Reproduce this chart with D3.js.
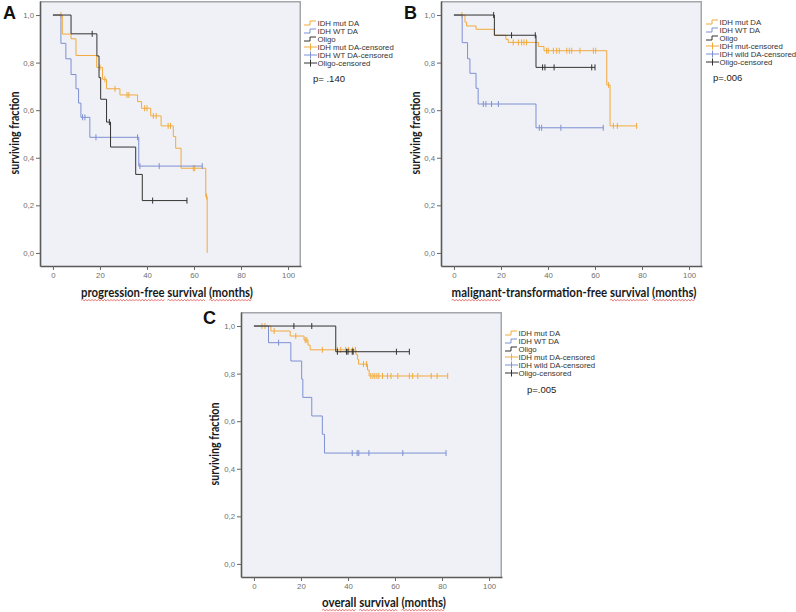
<!DOCTYPE html>
<html><head><meta charset="utf-8">
<script src="https://cdn.jsdelivr.net/npm/d3@7"></script>
<style>body{margin:0;background:#fff}svg{display:block}</style>
</head><body>
<svg id="chart" width="796" height="612"></svg>
<script>
// ---------- axis ticks ----------
const xTicks = [0, 20, 40, 60, 80, 100];
const xTickLabels = ["0", "20", "40", "60", "80", "100"];
const yTicks = [0, 0.2, 0.4, 0.6, 0.8, 1.0];
const yTickLabels = ["0,0", "0,2", "0,4", "0,6", "0,8", "1,0"];

// ---------- Panel A: progression-free survival ----------
const A_mut_time = [4.0, 7.7, 9.8, 18.6, 21.1, 22.8, 28.5, 36.0, 37.7, 41.6, 46.0, 51.2, 52.2, 54.5, 65.0, 65.6];
const A_mut_surv = [0.92, 0.90, 0.83, 0.78, 0.73, 0.69, 0.664, 0.636, 0.608, 0.576, 0.534, 0.489, 0.44, 0.356, 0.237, 0.0];
const A_mut_cens = [3.4, 20.0, 22.1, 26.4, 31.5, 32.3, 39.0, 40.0, 42.7, 43.9, 49.0, 50.0, 59.7, 60.3, 65.3];
const A_wt_time = [3.4, 5.5, 7.7, 9.8, 10.9, 11.9, 15.7, 36.5];
const A_wt_surv = [0.881, 0.816, 0.75, 0.69, 0.63, 0.57, 0.486, 0.365];
const A_wt_cens = [12.6, 13.6, 18.3, 36.0, 37.0, 45.2, 63.5];
const A_oli_time = [7.7, 18.7, 19.6, 20.3, 22.8, 24.5, 35.2, 38.0];
const A_oli_surv = [0.921, 0.828, 0.737, 0.646, 0.55, 0.445, 0.33, 0.22];
const A_oli_cens = [16.7, 24.0, 42.4, 57.0];

// ---------- Panel B: malignant-transformation-free survival ----------
const B_mut_time = [4.7, 5.4, 9.4, 17.2, 22.1, 23.1, 35.9, 38.3, 65.0, 66.4];
const B_mut_surv = [0.97, 0.954, 0.94, 0.915, 0.898, 0.885, 0.868, 0.85, 0.706, 0.534];
const B_mut_cens = [3.4, 25.2, 27.4, 28.8, 29.8, 30.9, 39.4, 40.1, 42.3, 43.7, 44.8, 48.0, 49.1, 50.1, 53.6, 59.3, 60.3, 65.8, 67.8, 69.5, 77.7];
const B_wt_time = [3.5, 5.8, 6.8, 9.4, 10.3, 34.9];
const B_wt_surv = [0.884, 0.816, 0.755, 0.692, 0.626, 0.526];
const B_wt_cens = [12.5, 13.6, 16.0, 18.9, 36.3, 37.3, 45.5, 63.5];
const B_oli_time = [17.2, 34.9];
const B_oli_surv = [0.915, 0.78];
const B_oli_cens = [16.9, 24.5, 34.6, 37.7, 38.7, 42.6, 58.6, 60.0];

// ---------- Panel C: overall survival ----------
const C_mut_time = [7.2, 15.4, 21.3, 23.0, 23.9, 43.4, 44.1, 44.5, 48.3, 49.0];
const C_mut_surv = [0.979, 0.958, 0.941, 0.92, 0.90, 0.88, 0.86, 0.84, 0.815, 0.79];
const C_mut_cens = [3.4, 4.7, 8.6, 17.8, 21.8, 22.5, 29.1, 35.5, 36.9, 39.0, 40.3, 42.0, 43.2, 46.6, 47.9, 49.7, 50.6, 51.4, 52.3, 53.1, 54.7, 56.8, 58.3, 61.2, 66.1, 67.5, 69.7, 75.4, 77.9, 82.4];
const C_wt_time = [6.2, 15.7, 20.3, 20.8, 24.6, 29.1, 30.0];
const C_wt_surv = [0.93, 0.853, 0.777, 0.70, 0.622, 0.545, 0.466];
const C_wt_cens = [10.5, 41.8, 43.9, 44.6, 48.9, 63.3, 81.7];
const C_oli_time = [34.8];
const C_oli_surv = [0.892];
const C_oli_cens = [17.0, 24.6, 35.5, 39.4, 40.0, 41.8, 42.2, 60.6, 66.1];

// ---------- legends / labels ----------
const A_legend = ["IDH mut DA", "IDH WT DA", "Oligo", "IDH mut DA-censored", "IDH WT DA-censored", "Oligo-censored"];
const B_legend = ["IDH mut DA", "IDH WT DA", "Oligo", "IDH mut-censored", "IDH wild DA-censored", "Oligo-censored"];
const C_legend = ["IDH mut DA", "IDH WT DA", "Oligo", "IDH mut DA-censored", "IDH wild DA-censored", "Oligo-censored"];
const A_p = "p= .140", B_p = "p=.006", C_p = "p=.005";
const A_xlabel = [["progression-free", true], [" survival", true], [" (months)", true]];
const B_xlabel = [["malignant", true], ["-transformation-free", false], [" survival", true], [" (months)", true]];
const C_xlabel = [["overall", true], [" survival", true], [" (months)", true]];
const yLabel = "surviving fraction";

// ---------- drawing ----------
const COL = {mut: "#f2aa3c", wt: "#7d90d2", oli: "#333333"};
const svg = d3.select("#chart");
const W = 261, H = 265;
const xDomain = [-5.5, 105.5], yDomain = [-0.055, 1.059];
const TITLE_FONT = "Lato, Open Sans, sans-serif";
const SMALL_FONT = "Liberation Sans, Arial, sans-serif";

function levelAt(times, survs, t) {
  let s = 1;
  for (let i = 0; i < times.length; i++) if (times[i] <= t) s = survs[i];
  return s;
}
function stepPts(times, survs, cens) {
  const pts = [[0, 1]];
  let prev = 1;
  times.forEach((t, i) => { pts.push([t, prev]); pts.push([t, survs[i]]); prev = survs[i]; });
  const end = Math.max(times[times.length - 1], d3.max(cens));
  if (end > times[times.length - 1]) pts.push([end, prev]);
  return pts;
}
function wavy(g, x0, x1, y) {
  let d = `M${x0},${y}`;
  let up = true;
  for (let xx = x0 + 1.8; xx <= x1; xx += 1.8) { d += `L${xx},${y + (up ? -0.9 : 0.9)}`; up = !up; }
  g.append("path").attr("d", d).attr("fill", "none").attr("stroke", "#e0524f").attr("stroke-width", 0.8);
}

function drawPanel(cfg) {
  const g = svg.append("g").attr("transform", `translate(${cfg.ox},${cfg.oy})`);
  const x = d3.scaleLinear().domain(xDomain).range([0, W]);
  const y = d3.scaleLinear().domain(yDomain).range([H, 0]);
  g.append("rect").attr("width", W).attr("height", H).attr("fill", "#f0f1f6");
  g.append("path").attr("d", `M0,0.75H${W - 0.75}V${H}`).attr("fill", "none")
    .attr("stroke", "#a4a6ab").attr("stroke-width", 1.5);

  const ya = g.append("g").call(d3.axisLeft(y).tickValues(yTicks)
    .tickFormat((d, i) => yTickLabels[i]).tickSize(4).tickPadding(2).tickSizeOuter(0));
  const xa = g.append("g").attr("transform", `translate(0,${H})`).call(d3.axisBottom(x).tickValues(xTicks)
    .tickFormat((d, i) => xTickLabels[i]).tickSize(4).tickPadding(2).tickSizeOuter(0));
  [ya, xa].forEach(a => {
    a.select(".domain").attr("stroke", "#5a5a5a").attr("stroke-width", 1.6);
    a.selectAll(".tick line").attr("stroke", "#666");
    a.selectAll(".tick text").attr("fill", "#707070").attr("font-family", SMALL_FONT).attr("font-size", 7.8);
  });

  const line = d3.line().x(d => x(d[0])).y(d => y(d[1]));
  cfg.series.forEach(s => {
    g.append("path").datum(stepPts(s.time, s.surv, s.cens)).attr("d", line)
      .attr("fill", "none").attr("stroke", s.color).attr("stroke-width", 1);
    g.selectAll(null).data(s.cens).join("line")
      .attr("x1", d => x(d)).attr("x2", d => x(d))
      .attr("y1", d => y(levelAt(s.time, s.surv, d)) - 3)
      .attr("y2", d => y(levelAt(s.time, s.surv, d)) + 3)
      .attr("stroke", s.color).attr("stroke-width", 1);
  });

  // panel letter
  svg.append("text").attr("x", cfg.letter[1]).attr("y", cfg.letter[2]).text(cfg.letter[0])
    .attr("font-family", SMALL_FONT).attr("font-weight", "bold")
    .attr("font-size", 18).attr("fill", "#111");

  // y label (scaled horizontally to the reference width)
  const ylg = svg.append("g");
  const yl = ylg.append("text").attr("text-anchor", "middle").text(yLabel)
    .attr("font-family", TITLE_FONT).attr("font-weight", "bold").attr("font-size", 13).attr("fill", "#1a1a1a");
  const ylen = yl.node().getComputedTextLength();
  ylg.attr("transform", `translate(${cfg.ylab[0]},${cfg.ylab[1]}) rotate(-90) scale(${83 / ylen},1)`);

  // x label with wavy underlines
  const xlg = svg.append("g");
  const full = cfg.xlabel.map(w => w[0]).join("");
  const xl = xlg.append("text").attr("x", 0).attr("y", 0).attr("text-anchor", "middle")
    .text(full).attr("font-family", TITLE_FONT).attr("font-weight", "bold").attr("font-size", 13).attr("fill", "#1a1a1a");
  const node = xl.node();
  const total = node.getComputedTextLength();
  const sx = cfg.xlab[2] / total;
  xlg.attr("transform", `translate(${cfg.xlab[0]},${cfg.xlab[1]}) scale(${sx},1)`);
  const start = -total / 2;
  let idx = 0;
  cfg.xlabel.forEach(([w, u]) => {
    const lead = w.length - w.trimStart().length;
    if (u) {
      const a = start + (idx + lead > 0 ? node.getSubStringLength(0, idx + lead) : 0);
      const b = a + node.getSubStringLength(idx + lead, w.trim().length);
      wavy(xlg, a, b, 3.2);
    }
    idx += w.length;
  });

  // legend
  const lg = svg.append("g").attr("transform", `translate(${cfg.leg[0]},${cfg.leg[1]})`);
  const cols = [COL.mut, COL.wt, COL.oli];
  cfg.legend.forEach((name, i) => {
    const yy = i * cfg.leg[2];
    const c = cols[i % 3];
    if (i < 3) {
      lg.append("path").attr("d", `M0,${yy + 2}H6V${yy - 2}H12`).attr("fill", "none").attr("stroke", c).attr("stroke-width", 1);
    } else {
      lg.append("path").attr("d", `M0,${yy}H13M6.5,${yy - 3.5}V${yy + 3.5}`).attr("fill", "none").attr("stroke", c).attr("stroke-width", 1);
    }
    lg.append("text").attr("x", 13.5).attr("y", yy + 3).text(name)
      .attr("font-family", SMALL_FONT).attr("font-size", 7.8).attr("fill", "#333");
  });
  svg.append("text").attr("x", cfg.p[1]).attr("y", cfg.p[2]).text(cfg.p[0])
    .attr("font-family", SMALL_FONT).attr("font-size", 9.5).attr("fill", "#222");
}

drawPanel({
  ox: 40, oy: 1, letter: ["A", 3, 19], ylab: [19, 133], xlab: [167, 297, 172], xlabel: A_xlabel,
  leg: [304, 23, 8], legend: A_legend, p: [A_p, 313, 82],
  series: [
    {time: A_mut_time, surv: A_mut_surv, cens: A_mut_cens, color: COL.mut},
    {time: A_wt_time, surv: A_wt_surv, cens: A_wt_cens, color: COL.wt},
    {time: A_oli_time, surv: A_oli_surv, cens: A_oli_cens, color: COL.oli}
  ]
});
drawPanel({
  ox: 441, oy: 1, letter: ["B", 404, 19], ylab: [420, 133], xlab: [574, 297, 245], xlabel: B_xlabel,
  leg: [706, 22, 8], legend: B_legend, p: [B_p, 713, 81],
  series: [
    {time: B_mut_time, surv: B_mut_surv, cens: B_mut_cens, color: COL.mut},
    {time: B_wt_time, surv: B_wt_surv, cens: B_wt_cens, color: COL.wt},
    {time: B_oli_time, surv: B_oli_surv, cens: B_oli_cens, color: COL.oli}
  ]
});
drawPanel({
  ox: 241, oy: 312, letter: ["C", 203, 324], ylab: [219, 444], xlab: [384, 607, 124], xlabel: C_xlabel,
  leg: [505, 333, 8], legend: C_legend, p: [C_p, 527, 393],
  series: [
    {time: C_mut_time, surv: C_mut_surv, cens: C_mut_cens, color: COL.mut},
    {time: C_wt_time, surv: C_wt_surv, cens: C_wt_cens, color: COL.wt},
    {time: C_oli_time, surv: C_oli_surv, cens: C_oli_cens, color: COL.oli}
  ]
});
</script>
</body></html>
